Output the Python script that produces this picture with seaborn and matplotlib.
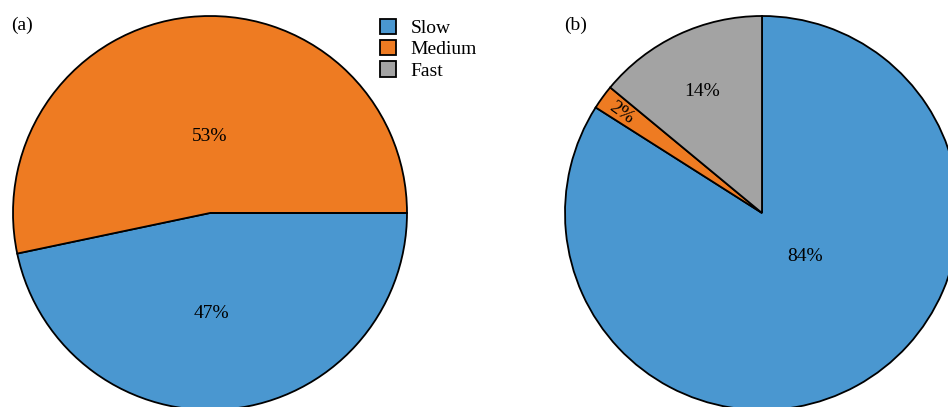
import numpy as np
import matplotlib
matplotlib.use("Agg")
import matplotlib.pyplot as plt
import seaborn as sns

sns.set_theme(style="white")
plt.rcParams['font.family'] = ['Liberation Serif', 'DejaVu Serif']
plt.rcParams['text.color'] = 'black'

categories = ["Slow", "Medium", "Fast"]
values_a = [46.7, 53.3, 0]
values_b = [84, 2, 14]
colors = ["#4a97d0", "#ee7b22", "#a3a3a3"]

W, H = 948, 407
fig = plt.figure(figsize=(W / 100, H / 100), dpi=100)
R = 197

def make_ax(cx, cy):
    return fig.add_axes([(cx - R) / W, (H - cy - R) / H, 2 * R / W, 2 * R / H])

ax_a = make_ax(210, 213)
ax_b = make_ax(762, 213)

# label placement: (radial distance, angle offset deg, rotate)
label_a = [(0.51, -5.4, False), (0.386, -5.4, False), None]
label_b = [(0.31, 15.5, False), (0.875, 0.5, True), (0.69, 1.0, False)]

def draw(ax, vals, start, lab):
    wedges, _ = ax.pie(vals, colors=colors, startangle=start, counterclock=False,
                       wedgeprops=dict(edgecolor="black", linewidth=1.3),
                       radius=1, center=(0, 0), frame=False)
    total = sum(vals)
    for w, v, l in zip(wedges, vals, lab):
        if v == 0 or l is None:
            continue
        d, off, rot = l
        mid = np.deg2rad((w.theta1 + w.theta2) / 2 + off)
        x, y = d * np.cos(mid), d * np.sin(mid)
        r = np.rad2deg(mid) - 180 if rot else 0
        ax.text(x, y, f"{v / total * 100:.0f}%", ha="center", va="center",
                fontsize=14, rotation=r, rotation_mode="anchor", color="black")
    ax.set_xlim(-1, 1)
    ax.set_ylim(-1, 1)
    ax.set_aspect("equal")
    ax.axis("off")
    return wedges

wa = draw(ax_a, values_a, 0, label_a)
wb = draw(ax_b, values_b, 90, label_b)

fig.text(11 / W, 1 - 25 / H, "(a)", fontsize=14, va="center", ha="left", color="black")
fig.text(564 / W, 1 - 25 / H, "(b)", fontsize=14, va="center", ha="left", color="black")

leg = fig.legend(wb, categories, loc="upper left", bbox_to_anchor=(372 / W, 1 - 11 / H),
                 frameon=False, fontsize=14, handlelength=0.85, handleheight=0.85,
                 handletextpad=0.75, labelspacing=0.14, borderaxespad=0)
for t in leg.get_texts():
    t.set_color("black")

fig.savefig("out.png", dpi=100)
